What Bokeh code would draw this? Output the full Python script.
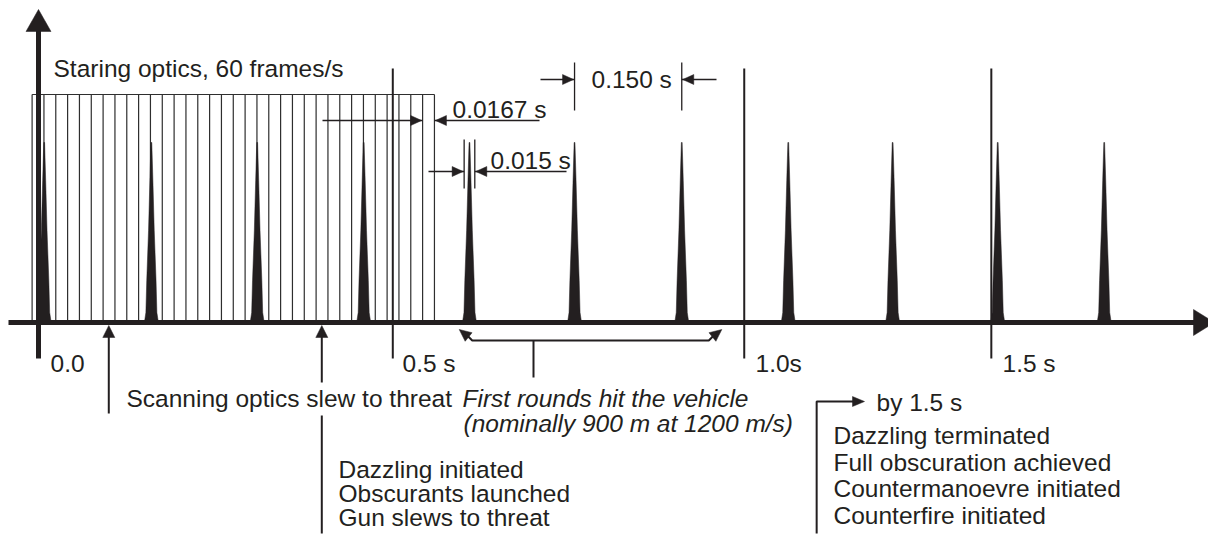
import math
import numpy as np
from bokeh.plotting import figure
from bokeh.models import Range1d
from bokeh.embed import file_html
from bokeh.resources import INLINE
from bokeh.core.properties import value

# ---------------- data ----------------
pulse_times = [0.008, 0.159, 0.308, 0.458, 0.607, 0.755, 0.906, 1.056, 1.203, 1.351, 1.501]  # s
pulse_duration = 0.015   # s
pulse_period = 0.150     # s
frame_rate = 60          # frames/s
frame_start = -0.009     # s
n_frames = 34
marker_times = [0.0, 0.499, 0.994, 1.342]
marker_labels = ["0.0", "0.5 s", "1.0s", "1.5 s"]
event_times = [0.099, 0.399]          # up arrows
hit_window = [0.594, 0.961]           # first rounds hit the vehicle
by_time_stem = 1.096

# ---------------- layout helpers ----------------
SCALE = 710.0   # px per second
X0 = 38.0       # page px of t = 0
W, H = 1208, 536
OFF = 0
TY = -8         # text baseline correction


def tx(px):
    return (px - X0) / SCALE


def px(t):
    return X0 + t * SCALE


INK = "#231f20"
FONT = value("Liberation Sans")
FS = "24.5px"

p = figure(width=W, height=H, output_backend="svg", toolbar_location=None,
           x_range=Range1d(tx(OFF), tx(OFF + W)), y_range=Range1d(OFF + H, OFF),
           min_border=0)
p.axis.visible = False
p.grid.visible = False
p.outline_line_color = None
p.background_fill_color = "white"


def arrowhead(tip_x, tip_y, dx, dy, L, Wd):
    n = math.hypot(dx, dy)
    dx, dy = dx / n, dy / n
    nx, ny = -dy, dx
    bx, by = tip_x - L * dx, tip_y - L * dy
    xs = [tip_x, bx + Wd / 2 * nx, bx - Wd / 2 * nx]
    ys = [tip_y, by + Wd / 2 * ny, by - Wd / 2 * ny]
    return [tx(v) for v in xs], ys


heads_x, heads_y = [], []


def add_head(*a):
    hx, hy = arrowhead(*a)
    heads_x.append(hx)
    heads_y.append(hy)


AXIS_Y = 322

# ---------------- staring optics frames ----------------
frame_edges = [frame_start + k / frame_rate for k in range(n_frames + 1)]
p.segment(x0=frame_edges, y0=[94] * len(frame_edges), x1=frame_edges, y1=[AXIS_Y] * len(frame_edges),
          line_color="#2e2e2e", line_width=1.2)
p.segment(x0=[frame_edges[0]], y0=[94], x1=[frame_edges[-1]], y1=[94], line_color="#2e2e2e", line_width=1.2)

# ---------------- time markers ----------------
mt = marker_times[1:]
p.segment(x0=mt, y0=[68] * len(mt), x1=mt, y1=[358] * len(mt), line_color=INK, line_width=2)

# ---------------- laser pulses ----------------
prof_h = [0, 10, 42, 92, 142, 180]
prof_w = [14, 11, 9.3, 5.7, 3, 0.8]
pxs, pys = [], []
for t in pulse_times:
    c = px(t)
    left = [c - w / 2 for w in prof_w]
    right = [c + w / 2 for w in prof_w][::-1]
    ys = [AXIS_Y - h for h in prof_h]
    pxs.append([tx(v) for v in left + right])
    pys.append(ys + ys[::-1])
p.patches(pxs, pys, fill_color=INK, line_color=INK, line_width=0.5)

# ---------------- axes ----------------
p.line([tx(8), tx(1195)], [AXIS_Y, AXIS_Y], line_color=INK, line_width=5)
add_head(1214, AXIS_Y, 1, 0, 21, 26)
p.line([0, 0], [358, 28], line_color=INK, line_width=5)
add_head(X0, 9, 0, -1, 22, 25)

# ---------------- dimension: 0.150 s ----------------
d1, d2 = pulse_times[5], pulse_times[6]
p.segment(x0=[d1, d2], y0=[62, 62], x1=[d1, d2], y1=[110, 110], line_color=INK, line_width=1.3)
p.segment(x0=[tx(540), tx(716)], y0=[79, 79], x1=[d1, d2], y1=[79, 79], line_color=INK, line_width=1.3)
add_head(px(d1) - 1, 79, 1, 0, 11, 10)
add_head(px(d2) + 1, 79, -1, 0, 11, 10)

# ---------------- dimension: 0.0167 s ----------------
f1, f2 = frame_edges[-2], frame_edges[-1]
p.segment(x0=[tx(322), tx(539)], y0=[120, 120], x1=[f1, f2], y1=[120, 120], line_color=INK, line_width=1.3)
add_head(px(f1) - 1, 120, 1, 0, 11, 10)
add_head(px(f2) + 1, 120, -1, 0, 11, 10)

# ---------------- dimension: 0.015 s ----------------
c5 = pulse_times[4]
e1, e2 = c5 - pulse_duration / 2, c5 + pulse_duration / 2
p.segment(x0=[e1, e2], y0=[139, 139], x1=[e1, e2], y1=[188, 188], line_color=INK, line_width=1.3)
p.segment(x0=[tx(428), tx(566)], y0=[171, 171], x1=[e1, e2], y1=[171, 171], line_color=INK, line_width=1.3)
add_head(px(e1) - 1, 171, 1, 0, 11, 10)
add_head(px(e2) + 1, 171, -1, 0, 11, 10)

# ---------------- event arrows ----------------
ea, eb = event_times
p.segment(x0=[ea, eb, eb], y0=[413, 382, 415], x1=[ea, eb, eb], y1=[334, 334, 533],
          line_color=INK, line_width=2)
add_head(px(ea), 325, 0, -1, 12, 12)
add_head(px(eb), 325, 0, -1, 12, 12)

# ---------------- hit window double arrow ----------------
h1, h2 = hit_window
l0 = px(h1)
r0 = px(h2)
p.line([tx(v) for v in [l0 + 6, l0 + 12, r0 - 12, r0 - 6]], [334, 340, 340, 334],
       line_color=INK, line_width=2)
add_head(l0 - 1, 329, -1, -0.8, 12, 11)
add_head(r0 + 1, 329, 1, -0.8, 12, 11)
p.segment(x0=[tx(533)], y0=[340], x1=[tx(533)], y1=[377], line_color=INK, line_width=2)

# ---------------- by 1.5 s bracket ----------------
p.line([by_time_stem, by_time_stem, tx(853)], [533, 401, 401], line_color=INK, line_width=2)
add_head(864, 401, 1, 0, 12, 10)

p.patches(heads_x, heads_y, fill_color=INK, line_color=INK, line_width=0.5)


# ---------------- texts ----------------
def txt(x_px, y, s, style="normal", size=FS):
    p.text(x=[tx(x_px)], y=[y + TY], text=[s], text_font=FONT, text_font_size=size,
           text_color=INK, text_align="left", text_baseline="alphabetic",
           text_font_style=style)


txt(53, 76, "Staring optics, 60 frames/s")
txt(591, 87, f"{pulse_period:.3f} s")
txt(452, 117, f"{1 / frame_rate:.4f} s")
txt(490, 168, f"{pulse_duration:.3f} s")

label_x = [50, 402, 755, 1002]
for lx, lab in zip(label_x, marker_labels):
    txt(lx, 371, lab)

txt(126, 406, "Scanning optics slew to threat")
txt(462, 406, "First rounds hit the vehicle", style="italic")
txt(463, 431, "(nominally 900 m at 1200 m/s)", style="italic")

for i, s in enumerate(["Dazzling initiated", "Obscurants launched", "Gun slews to threat"]):
    txt(338, 477 + 24 * i, s)

txt(876, 410, "by 1.5 s")
for i, s in enumerate(["Dazzling terminated", "Full obscuration achieved",
                       "Countermanoevre initiated", "Counterfire initiated"]):
    txt(833, 443 + 26.7 * i, s)

open("out.html", "w").write(file_html(p, INLINE))
